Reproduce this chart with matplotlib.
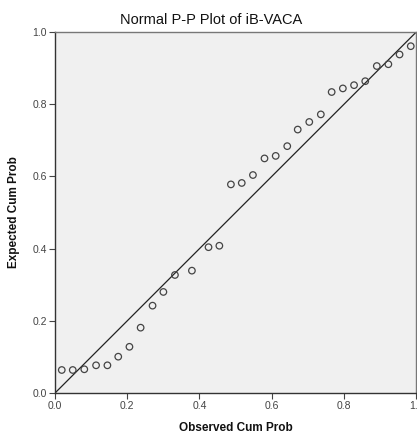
import matplotlib
matplotlib.use("Agg")
import matplotlib.pyplot as plt

plt.rcParams['font.family'] = ['Liberation Sans', 'DejaVu Sans']

title = "Normal P-P Plot of iB-VACA"
x_label = "Observed Cum Prob"
y_label = "Expected Cum Prob"

observed = [0.0186, 0.049, 0.081, 0.1136, 0.145, 0.175, 0.206, 0.237, 0.270, 0.300,
            0.332, 0.379, 0.425, 0.455, 0.487, 0.517, 0.548, 0.580, 0.611, 0.643,
            0.672, 0.704, 0.736, 0.766, 0.797, 0.828, 0.859, 0.891, 0.923, 0.954, 0.985]
expected = [0.0637, 0.0637, 0.0657, 0.0767, 0.0767, 0.1006, 0.128, 0.181, 0.242, 0.280,
            0.327, 0.339, 0.404, 0.408, 0.578, 0.582, 0.604, 0.650, 0.657, 0.684,
            0.730, 0.751, 0.772, 0.834, 0.844, 0.853, 0.864, 0.906, 0.911, 0.938, 0.961]
ref_line = [0.0, 1.0]
ticks = [0.0, 0.2, 0.4, 0.6, 0.8, 1.0]
tick_labels = ["0.0", "0.2", "0.4", "0.6", "0.8", "1.0"]

fig = plt.figure(figsize=(4.17, 4.34), dpi=100)
fig.patch.set_facecolor("white")
ax = fig.add_axes([0.132, 0.0945, 0.866, 0.8315])
ax.set_facecolor("#f0f0f0")

ax.plot(ref_line, ref_line, color="#222222", lw=0.9, zorder=2)
ax.scatter(observed, expected, s=22, facecolors="none", edgecolors="#444444",
           linewidths=0.9, zorder=3)

ax.set_xlim(0, 1)
ax.set_ylim(0, 1)
ax.set_xticks(ticks)
ax.set_xticklabels(tick_labels)
ax.set_yticks(ticks)
ax.set_yticklabels(tick_labels)
ax.tick_params(direction="out", length=4, width=0.8, labelsize=7.5,
               colors="#444444", pad=2)

for side in ["left", "bottom"]:
    ax.spines[side].set_color("#333333")
    ax.spines[side].set_linewidth(1.0)
for side in ["top", "right"]:
    ax.spines[side].set_color("#777777")
    ax.spines[side].set_linewidth(1.0)

fig.text(0.506, 0.955, title, fontsize=10.5, color="#111111", ha="center", va="center")
ax.set_xlabel(x_label, fontsize=8.5, fontweight="bold", color="#111111", labelpad=8)
ax.set_ylabel(y_label, fontsize=8.5, fontweight="bold", color="#111111", labelpad=9)

fig.savefig("out.png", dpi=100)
